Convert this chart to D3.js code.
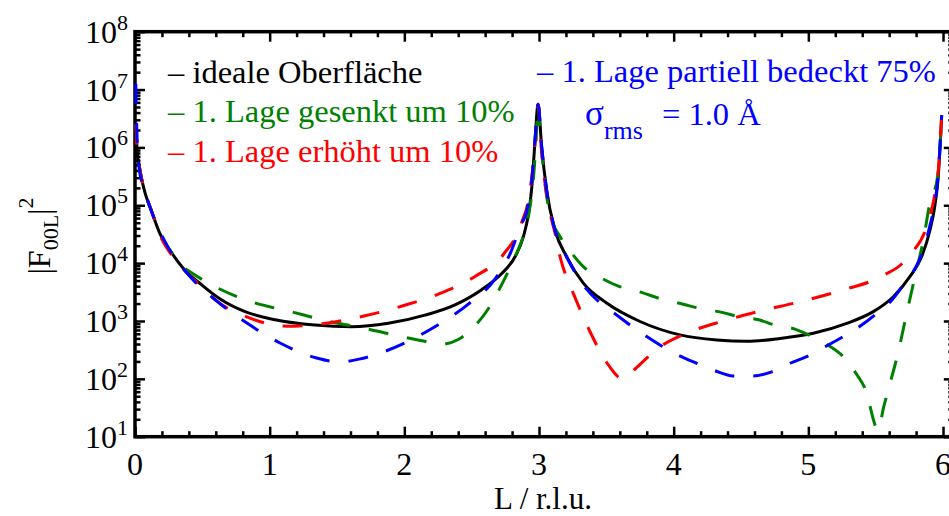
<!DOCTYPE html>
<html><head><meta charset="utf-8">
<script src="https://cdn.jsdelivr.net/npm/d3@7"></script>
<style>
body{margin:0;background:#fff;}
svg{display:block;}
text{font-family:"Liberation Serif","Times New Roman",serif;}
</style>
</head><body>
<svg id="c" width="949" height="516"></svg>
<script>
// ---- data ----
const L_ideal = [0.008,0.015,0.03,0.05,0.074,0.12,0.186,0.26,0.359,0.495,0.644,0.817,1.04,1.337,1.609,1.881,2.153,2.376,2.574,2.723,2.822,2.884,2.921,2.946,2.97,2.993,3.02,3.057,3.119,3.205,3.329,3.502,3.75,4.047,4.32,4.542,4.79,5.037,5.285,5.482,5.631,5.755,5.841,5.903,5.94,5.965,5.99];
const I_ideal = [2.5e6,8.9e5,5.0e5,2.8e5,1.66e5,8.3e4,3.2e4,1.66e4,8100,4200,2300,1450,1050,850,795,910,1260,1900,3470,6600,12900,28800,69000,2.0e5,1.26e6,5.6e6,1.0e6,1.8e5,3.7e4,1.29e4,4500,2040,980,575,470,445,500,615,910,1450,2630,5900,12900,3.7e4,1.0e5,3.2e5,3.6e6];

const L_lowered = [0.008,0.015,0.03,0.05,0.074,0.12,0.186,0.26,0.36,0.408,0.606,0.866,1.156,1.428,1.713,1.998,2.15,2.28,2.4,2.525,2.62,2.703,2.78,2.847,2.9,2.935,2.96,2.978,2.993,3.01,3.03,3.057,3.094,3.156,3.243,3.329,3.465,3.589,3.737,3.923,4.07,4.208,4.357,4.49,4.63,4.765,4.9,5.012,5.148,5.26,5.346,5.42,5.52,5.557,5.594,5.668,5.73,5.792,5.854,5.903,5.93,5.965,5.99];
const I_lowered = [2.5e6,8.9e5,5.0e5,2.8e5,1.66e5,8.3e4,3.2e4,1.66e4,8500,7100,3800,2140,1450,1000,740,525,447,398,479,830,1580,3470,7900,17400,39800,1.0e5,3.2e5,1.26e6,5.6e6,1.58e6,5.0e5,1.41e5,5.6e4,2.9e4,1.48e4,8700,5500,4000,3240,2340,1950,1620,1410,1175,1050,830,725,560,380,240,132,69,13,31,65,295,1350,5900,2.5e4,1.07e5,1.58e5,4.0e5,3.6e6];

const L_raised = [0.008,0.015,0.03,0.05,0.074,0.12,0.186,0.26,0.389,0.5,0.599,0.854,1.131,1.416,1.708,1.985,2.27,2.525,2.735,2.871,2.93,2.965,2.993,3.02,3.07,3.119,3.156,3.18,3.26,3.38,3.515,3.62,3.688,3.81,3.886,4.084,4.369,4.641,4.933,5.247,5.52,5.742,5.89,5.94,5.965,5.99];
const I_raised = [2.5e6,8.9e5,5.0e5,2.8e5,1.66e5,8.3e4,3.0e4,1.51e4,6600,3800,2300,1120,810,910,1230,1820,3020,5900,1.41e4,5.0e4,1.58e5,7.9e5,5.6e6,7.9e5,1.0e5,3.3e4,1.29e4,8300,2800,645,174,100,132,240,340,600,1000,1480,2140,3390,5600,1.29e4,5.2e4,1.58e5,4.0e5,3.6e6];

const L_partial = [0.006,0.015,0.03,0.06,0.111,0.223,0.389,0.594,0.834,1.077,1.349,1.52,1.663,1.985,2.233,2.475,2.678,2.792,2.866,2.909,2.946,2.97,2.993,3.02,3.057,3.119,3.205,3.329,3.45,3.55,3.676,3.898,4.034,4.17,4.307,4.443,4.591,4.728,4.864,5.012,5.148,5.396,5.507,5.619,5.705,5.792,5.854,5.903,5.94,5.965,5.99];
const I_partial = [1.26e7,1.58e6,4.5e5,2.2e5,9.3e4,2.34e4,6600,2340,910,417,229,195,219,398,813,1950,5500,1.58e4,4.6e4,7.9e4,2.75e5,1.35e6,5.6e6,1.02e6,1.8e5,3.7e4,1.29e4,4200,2090,1410,850,385,257,186,138,112,112,132,186,257,385,850,1350,2290,4200,8100,1.7e4,4.5e4,1.12e5,3.55e5,3.6e6];

const xTickValues = [0,1,2,3,4,5,6];
const yTickExponents = [1,2,3,4,5,6,7,8];
const legendLabels = ["– ideale Oberfläche","– 1. Lage gesenkt um 10%","– 1. Lage erhöht um 10%","– 1. Lage partiell bedeckt 75%"];
const seriesColors = ["#000000","#008000","#ff0000","#0000ff"];

// ---- chart ----
const svg = d3.select("#c");
const x0 = 135, unit = 134.67, xMax = 6.08;
const x = d3.scaleLinear().domain([0, xMax]).range([x0, x0 + unit * xMax]);
const y = d3.scaleLog().domain([10, 1e8]).range([436.7, 31.7]);
const yTop = y(1e8), yBot = y(10), xRight = x(xMax);

const gAx = svg.append("g");
const minorX = d3.range(0, 61).map(i => i / 10).filter(v => Math.abs(v * 5 - Math.round(v * 5)) < 1e-9 && !xTickValues.includes(v) && v <= xMax);
const allY = y.ticks();
const majorY = yTickExponents.map(e => Math.pow(10, e));
const minorY = allY.filter(v => !majorY.some(m => Math.abs(m - v) / m < 1e-6));

function styleAxis(g) {
  g.select(".domain").remove();
  g.selectAll("line").attr("stroke", "#000").attr("stroke-width", 2.5);
  g.selectAll("text").remove();
}
gAx.append("g").attr("transform", `translate(0,${yBot})`).call(d3.axisBottom(x).tickValues(xTickValues).tickSize(-10)).call(styleAxis);
gAx.append("g").attr("transform", `translate(0,${yBot})`).call(d3.axisBottom(x).tickValues(minorX).tickSize(-5.5)).call(styleAxis);
gAx.append("g").attr("transform", `translate(0,${yTop})`).call(d3.axisTop(x).tickValues(xTickValues).tickSize(-10)).call(styleAxis);
gAx.append("g").attr("transform", `translate(0,${yTop})`).call(d3.axisTop(x).tickValues(minorX).tickSize(-5.5)).call(styleAxis);
gAx.append("g").attr("transform", `translate(${x0},0)`).call(d3.axisLeft(y).tickValues(majorY).tickSize(-10)).call(styleAxis);
gAx.append("g").attr("transform", `translate(${x0},0)`).call(d3.axisLeft(y).tickValues(minorY).tickSize(-5.5)).call(styleAxis);
gAx.append("g").attr("transform", `translate(${xRight},0)`).call(d3.axisRight(y).tickValues(majorY).tickSize(-10)).call(styleAxis);
gAx.append("g").attr("transform", `translate(${xRight},0)`).call(d3.axisRight(y).tickValues(minorY).tickSize(-5.5)).call(styleAxis);

gAx.append("rect").attr("x", x0).attr("y", yTop).attr("width", xRight - x0).attr("height", yBot - yTop)
  .attr("fill", "none").attr("stroke", "#000").attr("stroke-width", 3.5);

gAx.selectAll("text.xl").data(xTickValues).join("text").attr("class", "xl")
  .attr("x", d => x(d)).attr("y", 475).attr("text-anchor", "middle").attr("font-size", 32).text(d => d);
const yl = gAx.selectAll("text.yl").data(yTickExponents).join("text").attr("class", "yl")
  .attr("x", 128).attr("y", d => y(Math.pow(10, d)) + 11).attr("text-anchor", "end").attr("font-size", 32);
yl.append("tspan").text("10");
yl.append("tspan").attr("dy", -13).attr("font-size", 22).text(d => d);

svg.append("text").attr("x", x(3.03)).attr("y", 509).attr("text-anchor", "middle").attr("font-size", 31).text("L / r.l.u.");
const yt = svg.append("text").attr("transform", "translate(50,236) rotate(-90)").attr("text-anchor", "middle").attr("font-size", 32);
yt.append("tspan").text("|F");
yt.append("tspan").attr("dy", 8).attr("font-size", 22).text("00L");
yt.append("tspan").attr("dy", -8).text("|");
yt.append("tspan").attr("dy", -17).attr("font-size", 22).text("2");

const series = [
  {L: L_ideal, I: I_ideal, dash: null},
  {L: L_lowered, I: I_lowered, dash: "20,19"},
  {L: L_raised, I: I_raised, dash: "20,19"},
  {L: L_partial, I: I_partial, dash: "20,19"}
];
const line = d3.line().x(d => x(d[0])).y(d => y(d[1])).curve(d3.curveMonotoneX);
series.forEach((s, i) => {
  svg.append("path").datum(s.L.map((l, k) => [l, s.I[k]]))
    .attr("d", line).attr("fill", "none").attr("stroke", seriesColors[i])
    .attr("stroke-width", 3).attr("stroke-dasharray", s.dash);
});

const legPos = [[168, 83], [168, 122], [168, 162], [537, 82]];
legendLabels.forEach((t, i) => {
  svg.append("text").attr("x", legPos[i][0]).attr("y", legPos[i][1]).attr("font-size", 32.5)
    .attr("fill", seriesColors[i]).text(t);
});
const sig = svg.append("text").attr("x", 585).attr("y", 125).attr("font-size", 35).attr("fill", "#0000ff");
sig.append("tspan").text("σ");
sig.append("tspan").attr("dy", 14).attr("font-size", 26).text("rms");
svg.append("text").attr("x", 662).attr("y", 125).attr("font-size", 32.5).attr("fill", "#0000ff").text("= 1.0 Å");
</script>
</body></html>
